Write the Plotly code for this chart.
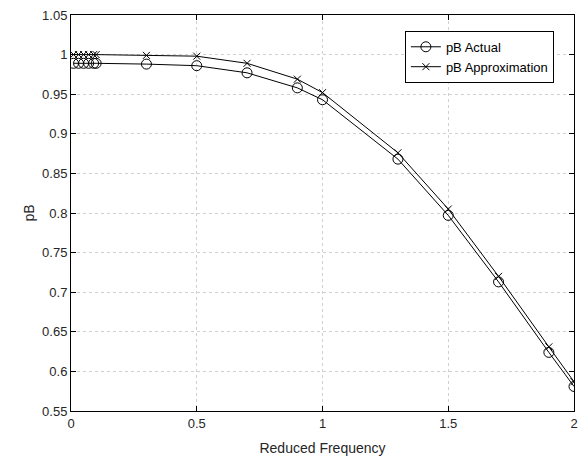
import plotly.graph_objects as go

freq = [0.01, 0.03, 0.05, 0.07, 0.09, 0.1, 0.3, 0.5, 0.7, 0.9, 1.0, 1.3, 1.5, 1.7, 1.9, 2.0]
pb_actual = [0.989, 0.989, 0.989, 0.989, 0.989, 0.989, 0.988, 0.986, 0.977, 0.958, 0.943, 0.868, 0.797, 0.713, 0.624, 0.581]
pb_approx = [1.0, 1.0, 1.0, 1.0, 1.0, 1.0, 0.999, 0.998, 0.989, 0.969, 0.952, 0.876, 0.805, 0.720, 0.631, 0.587]

x_ticks = [0, 0.5, 1, 1.5, 2]
y_ticks = [0.55, 0.6, 0.65, 0.7, 0.75, 0.8, 0.85, 0.9, 0.95, 1, 1.05]
y_tick_text = ["0.55", "0.6", "0.65", "0.7", "0.75", "0.8", "0.85", "0.9", "0.95", "1", "1.05"]

fig = go.Figure()
fig.add_trace(go.Scatter(
    x=freq, y=pb_actual, name="pB Actual", mode="lines+markers",
    line=dict(color="black", width=1),
    marker=dict(symbol="circle-open", size=10, color="black", line=dict(width=1)),
))
fig.add_trace(go.Scatter(
    x=freq, y=pb_approx, name="pB Approximation", mode="lines+markers",
    line=dict(color="black", width=1),
    marker=dict(symbol="x-thin-open", size=7, color="black", line=dict(width=1)),
))

FONT = "Arial, Liberation Sans"
axis_common = dict(
    showline=True, linecolor="black", linewidth=1, mirror="ticks",
    ticks="inside", ticklen=5, tickcolor="black",
    showgrid=True, gridcolor="#d0d0d0", griddash="dot", gridwidth=1,
    zeroline=False, automargin=False,
    tickfont=dict(family=FONT, size=13, color="#262626"),
)

fig.update_xaxes(range=[0, 2], tickvals=x_ticks, ticktext=[str(v) for v in x_ticks],
                 title=dict(text="Reduced Frequency", font=dict(family=FONT, size=14, color="#262626"), standoff=13),
                 **axis_common)
fig.update_yaxes(range=[0.55, 1.05], tickvals=y_ticks, ticktext=y_tick_text,
                 title=dict(text="pB", font=dict(family=FONT, size=14, color="#262626"), standoff=4),
                 **axis_common)

fig.update_layout(
    width=588, height=461,
    margin=dict(l=71, r=14, t=15, b=50),
    paper_bgcolor="white", plot_bgcolor="white",
    showlegend=True,
    legend=dict(x=0.96, y=0.96, xanchor="right", yanchor="top",
                bgcolor="white", bordercolor="black", borderwidth=1,
                font=dict(family=FONT, size=13, color="black"),
                tracegroupgap=0, itemwidth=30),
)

fig.write_html("out.html", config={"displayModeBar": False},
               post_script="document.body.style.margin='0px';")
